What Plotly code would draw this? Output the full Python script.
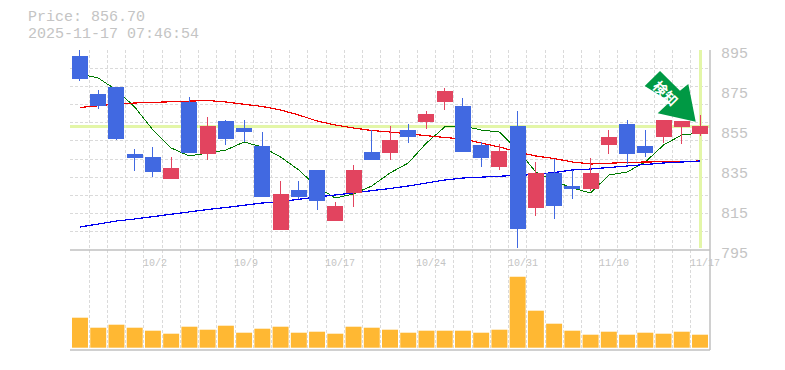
import plotly.graph_objects as go

dates = ["9/25","9/26","9/29","9/30","10/1","10/2","10/3","10/6","10/7","10/8","10/9","10/10","10/14","10/15","10/16","10/17","10/20","10/21","10/22","10/23","10/24","10/27","10/28","10/29","10/30","10/31","11/4","11/5","11/6","11/7","11/10","11/11","11/12","11/13","11/17"]
tick_idx = [4, 9, 14, 19, 24, 29, 34]
tick_text = ["10/2", "10/9", "10/17", "10/24", "10/31", "11/10", "11/17"]
price_ticks = [895, 875, 855, 835, 815, 795]
current_price = 856.70

opens  = [892,873,876.5,843,841.5,831,869,843.5,859.5,856,847,805.5,825,835,810,824,844,844,855,859.5,869.5,867,847.5,837,857,816.5,833.5,827,826,848,858,847,852,857,853.5]
highs  = [895,875,876.5,845.5,846.5,841.5,871.5,861.5,860,860,854,829.5,829.5,835,819,837.5,855,857,858,864.5,876,871,849,848,864.5,839,840.5,835,841,855,860,855,860,859.5,862.5]
lows   = [879.5,865.5,850,834.5,831.5,831,844,840,847.5,849,822,805.5,820.5,815,809.5,816.5,840,840,848.5,855.5,865,844.5,836.5,835,796,812,810.5,820.5,824.5,843,838,841.5,848.5,848,852]
closes = [881,867.5,851,841.5,834.5,836,844,857,851,854.5,822,823,822,820,817,835,840.5,850,852,863,874.5,844.5,841.5,844.5,806,833.5,817.5,826,833.5,851.5,843.5,844,860,859.5,856.7]
ma_short = [883,881,875,866.5,855,846,842,843.5,845,849,846.5,841.5,835,826.5,821,823,827,833.5,838.5,848.5,856.5,857,855,854,845,834,829.5,826,823.5,832.5,834,839,847.5,852.5,853.5]
ma_mid = [866.25,867.25,868,868.5,868.75,869,869.5,869.75,869,868,866.75,865,862.5,859.5,857.5,856,854.75,854,853,852,851.25,850.5,848.5,846.5,844,842,840.75,839,838,838.5,838.75,839,839,839.25,839.5]
ma_long = [806.5,808,809.5,810.5,811.75,813,814,815.25,816.25,817.5,818.5,819.25,820.5,821.5,822.5,823.5,824.5,825.75,827,828.5,830,831,831.5,832,832.5,832.75,833.75,835,835.5,836.25,837.25,837.75,838.5,839,839.5]
volumes = [30,20,23,20,17,14,21,18,22,15,19,21,15,16,14,21,20,18,15,17,17,17,15,18,71,37,24,17,13,16,13,15,14,16,13]

RED = "#E2445F"
BLUE = "#4169E1"
GRID = "#DADADA"
AXIS = "#C0C0C0"
TEXT = "#C4C4C4"
LIME = "#E3F6A8"
MONO = "Liberation Mono"
xs = list(range(len(dates)))
xrange = [-0.548, 34.548]

fig = go.Figure()
fig.add_trace(go.Scatter(x=xrange, y=[current_price]*2, mode="lines", line=dict(color=LIME, width=3), hoverinfo="skip", xaxis="x", yaxis="y"))
fig.add_trace(go.Scatter(x=[xs[-1]]*2, y=[796, 895], mode="lines", line=dict(color=LIME, width=3), hoverinfo="skip", xaxis="x", yaxis="y"))
fig.add_trace(go.Scatter(x=xs, y=ma_short, mode="lines", line=dict(color="#007A00", width=1), xaxis="x", yaxis="y"))
fig.add_trace(go.Scatter(x=xs, y=ma_mid, mode="lines", line=dict(color="#F00000", width=1.2), xaxis="x", yaxis="y"))
fig.add_trace(go.Scatter(x=xs, y=ma_long, mode="lines", line=dict(color="#0000F0", width=1.2), xaxis="x", yaxis="y"))
# candles live on an overlaying axis pair so they paint over the lines
fig.add_trace(go.Candlestick(
    x=xs, open=opens, high=highs, low=lows, close=closes, whiskerwidth=0,
    increasing=dict(line=dict(color=RED, width=1), fillcolor=RED),
    decreasing=dict(line=dict(color=BLUE, width=1), fillcolor=BLUE),
    xaxis="x3", yaxis="y3"))
fig.add_trace(go.Bar(x=xs, y=volumes, width=0.875, marker=dict(color="#FFB833", line=dict(width=0)), xaxis="x2", yaxis="y2"))

axis_x = dict(range=xrange, tick0=-0.5, dtick=1, showgrid=True, griddash="3px,2px", gridcolor=GRID, gridwidth=1,
              showticklabels=False, ticks="", zeroline=False, showline=False)
hidden = dict(showgrid=False, showticklabels=False, ticks="", zeroline=False, showline=False)
fig.update_layout(
    width=785, height=370, autosize=False, showlegend=False,
    margin=dict(l=70, r=75, t=50, b=20), paper_bgcolor="white", plot_bgcolor="white",
    boxgap=0.18, boxgroupgap=0,
    xaxis=dict(axis_x, anchor="y"),
    xaxis2=dict(axis_x, anchor="y2"),
    xaxis3=dict(hidden, range=xrange, anchor="y3", overlaying="x", rangeslider=dict(visible=False)),
    yaxis=dict(domain=[1/3, 1], range=[795, 895], tick0=795, dtick=100/11, showgrid=True, griddash="3px,2px",
               gridcolor=GRID, gridwidth=1, showticklabels=False, ticks="", zeroline=False, showline=False),
    yaxis2=dict(hidden, domain=[0, 1/3], range=[-2.3, 97.7], anchor="x2"),
    yaxis3=dict(hidden, domain=[1/3, 1], range=[795, 895], anchor="x3", overlaying="y"),
    font=dict(family=MONO, color=TEXT),
)

frame = dict(type="line", xref="paper", yref="paper", line=dict(color=AXIS, width=1.5), layer="above")
shapes = [dict(frame, x0=0, x1=1, y0=1/3, y1=1/3), dict(frame, x0=0, x1=1, y0=0, y1=0), dict(frame, x0=1, x1=1, y0=0, y1=1)]

arrow = [(660, 71), (680, 90.7), (688.3, 84), (695.7, 121.7), (657.7, 113.3), (670, 101.7), (644.7, 86)]
shapes.append(dict(type="path", path=" ".join(
    ("M" if i == 0 else "L") + f"{(x-70)/640:.4f} {(350-y)/300:.4f}" for i, (x, y) in enumerate(arrow)) + " Z",
    xref="paper", yref="paper", fillcolor="#009944", line=dict(width=0), layer="above"))

anns = []
for t in price_ticks:
    anns.append(dict(text=str(t), x=(719-70)/640, xref="paper", y=t, yref="y", xanchor="left", yanchor="middle",
                     yshift=-4, showarrow=False, font=dict(family=MONO, size=15, color=TEXT)))
for i, label in zip(tick_idx, tick_text):
    anns.append(dict(text=label, x=i, xref="x", y=795, yref="y", xanchor="left", yanchor="middle",
                     xshift=-12, yshift=-13, showarrow=False, font=dict(family=MONO, size=10, color=TEXT)))
anns.append(dict(text=f"Price: {current_price:.2f}", x=(27-70)/640, xref="paper", y=(350-17)/300, yref="paper", height=14, borderpad=0,
                 xanchor="left", yanchor="middle", showarrow=False, font=dict(family=MONO, size=15, color=TEXT)))
anns.append(dict(text="2025-11-17 07:46:54", x=(27-70)/640, xref="paper", y=(350-34.5)/300, yref="paper", height=14, borderpad=0,
                 xanchor="left", yanchor="middle", showarrow=False, font=dict(family=MONO, size=15, color=TEXT)))
anns.append(dict(text="<b>検知</b>", x=(666-70)/640, xref="paper", y=(350-93)/300, yref="paper", textangle=45,
                 xanchor="center", yanchor="middle", showarrow=False, font=dict(family="Noto Sans CJK JP", size=14, color="#FFFFFF")))
fig.update_layout(shapes=shapes, annotations=anns)

css = ".scatterlayer path.js-line,.boxes path{shape-rendering:crispEdges !important}"
fig.write_html("out.html", config=dict(displayModeBar=False),
               post_script="document.body.style.margin='0';document.body.style.overflow='hidden';"
                           "var s=document.createElement('style');s.textContent='" + css + "';document.head.appendChild(s);")
